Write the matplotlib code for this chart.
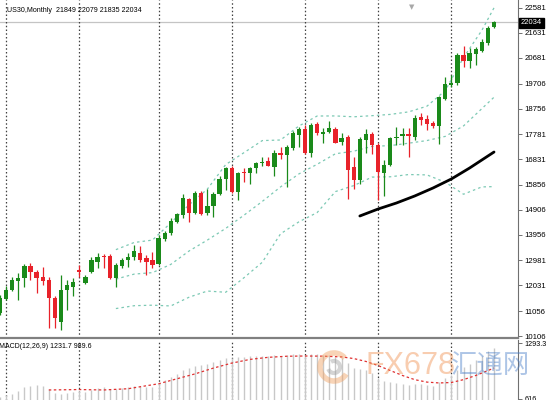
import matplotlib
matplotlib.use("Agg")
import matplotlib.pyplot as plt
from matplotlib.patches import Arc

# US30 monthly candles, oldest first
opens = [10982, 11514, 11856, 12199, 12313, 12769, 12541, 12351, 12237, 11552,
         10640, 11856, 11971, 12617, 12123, 12541, 12922, 13150, 13150, 12313,
         12769, 12998, 13112, 13264, 13074, 12998, 12845, 13796, 14024, 14443,
         14709, 15318, 14785, 15546, 14785, 15051, 15508, 16078, 16496, 15584,
         16344, 16290, 16496, 16686, 16762, 16534, 17066, 16990, 17257, 17751,
         17980, 17066, 18170, 17789, 17865, 17980, 17485, 17675, 16534, 16040,
         17561, 17789, 17371, 16306, 16610, 17637, 17713, 17789, 17675, 18436,
         18360, 18208, 18094, 19120, 19652, 19729, 20794, 20565, 20832, 20946,
         21250, 21849]
highs = [11650, 12009, 12351, 12503, 12845, 12884, 12617, 12731, 12351, 11630,
         12427, 12237, 12313, 12807, 12427, 13112, 13264, 13226, 13226, 12884,
         13074, 13264, 13568, 13530, 13188, 13302, 13948, 14100, 14595, 14785,
         15508, 15356, 15622, 15622, 15698, 15584, 16192, 16534, 16572, 16344,
         16496, 16534, 16724, 16914, 16914, 17181, 17295, 17371, 17903, 18056,
         18132, 18208, 18246, 18018, 18284, 18056, 17827, 17751, 16914, 17675,
         17980, 17865, 17447, 16800, 17675, 18056, 18018, 18018, 18512, 18588,
         18512, 18284, 19230, 19957, 20033, 20870, 21136, 21060, 21098, 21400,
         21900, 22079]
lows = [10900, 11476, 11800, 11476, 11971, 12237, 11742, 12047, 10416, 10416,
        10340, 11096, 11630, 12351, 12085, 12503, 12693, 12693, 12275, 11971,
        12693, 12731, 12998, 12922, 12427, 12693, 12807, 13720, 13948, 14405,
        14595, 14443, 14747, 14709, 14709, 14633, 15470, 15660, 15546, 15279,
        15964, 15888, 16306, 16572, 16572, 16192, 16838, 15774, 17181, 17295,
        17028, 16914, 17751, 17447, 17827, 17447, 17371, 15318, 15698, 15888,
        17066, 17028, 15279, 15432, 16572, 17371, 17371, 16914, 17561, 18132,
        17941, 18018, 17409, 19082, 19576, 19652, 20337, 20299, 20413, 20908,
        21174, 21835]
closes = [11553, 11856, 12237, 12313, 12769, 12541, 12313, 12199, 11552, 10792,
          11856, 12047, 12161, 12541, 12351, 12998, 13112, 13112, 12313, 12807,
          12998, 13112, 13340, 12998, 12922, 12807, 13834, 14024, 14481, 14747,
          15356, 14785, 15546, 14747, 15051, 15508, 16078, 16496, 15584, 16306,
          16306, 16496, 16686, 16724, 16572, 17066, 16990, 17295, 17827, 17980,
          17066, 18132, 17827, 17865, 18018, 17447, 17637, 16420, 16040, 17599,
          17789, 17371, 16344, 16610, 17637, 17675, 17789, 17713, 18398, 18322,
          18170, 18094, 19196, 19690, 19729, 20794, 20565, 20870, 21022, 21288,
          21820, 22034]

# Bollinger band lines, sampled at these candles
band_idx = [19, 22, 25, 28, 31, 34, 37, 40, 43, 46, 49, 52, 55, 58, 61, 64, 67, 70, 73, 76, 79, 81]
band_mid = [12271, 12461, 12517, 12830, 13340, 13755, 14198, 14701, 15224, 15777, 16270,
            16637, 17038, 17135, 17318, 17348, 17439, 17540, 17698, 18097, 18753, 19188]
band_up = [13391, 13663, 13755, 14410, 15098, 15693, 16626, 17079, 17538, 17561, 18092,
           18473, 18476, 18443, 18486, 18534, 18631, 18846, 19440, 20695, 21729, 22588]
band_lo = [11151, 11259, 11279, 11250, 11582, 11817, 11770, 12323, 12910, 13993, 14448,
           14801, 15600, 15827, 16150, 16162, 16247, 16234, 15956, 15499, 15777, 15788]

# black moving average
ma_idx = [59, 62, 65, 68, 71, 74, 77, 79, 81]
ma_val = [14671, 14937, 15165, 15432, 15736, 16078, 16496, 16800, 17104]

# MACD histogram (main) and signal line
macd = [640, 660, 676, 712, 761, 773, 785, 773, 737, 688,
        676, 688, 700, 712, 700, 725, 749, 761, 737, 737,
        749, 761, 773, 773, 761, 761, 809, 846, 882, 918,
        967, 991, 1015, 1027, 1039, 1063, 1088, 1112, 1112, 1124,
        1124, 1136, 1136, 1136, 1136, 1148, 1136, 1148, 1160, 1160,
        1148, 1160, 1160, 1148, 1148, 1124, 1112, 1051, 991, 979,
        967, 930, 870, 834, 821, 809, 797, 785, 797, 797,
        785, 773, 821, 870, 906, 967, 1003, 1039, 1088, 1136,
        1196, 1232]
sig_idx = [8, 13, 17, 21, 26, 29, 32, 35, 38, 41, 44, 47, 50, 53, 56, 58, 60, 62,
           64, 66, 68, 70, 72, 74, 76, 78, 80, 81]
sig_val = [725, 730, 725, 740, 800, 860, 920, 990, 1050, 1095, 1120, 1133, 1136, 1134,
           1125, 1105, 1070, 1020, 960, 900, 850, 820, 810, 815, 850, 900, 960, 990]

price_ticks = [22581, 21631, 20681, 19706, 18756, 17781, 16831, 15856, 14906,
               13956, 12981, 12031, 11056, 10106]
separators = [1, 13, 26, 38, 50, 62, 74]

plt.rcParams['font.family'] = ['Liberation Sans', 'DejaVu Sans']
W, H = 546, 400
fig = plt.figure(figsize=(W / 100, H / 100), dpi=100)
ax = fig.add_axes([0, 1 - 338 / H, 518 / W, 338 / H])
mx = fig.add_axes([0, 0, 518 / W, 60 / H])

green, red = '#1a8a1a', '#e8222a'
n = len(closes)
xs = list(range(n))
cols = [green if c >= o else red for o, c in zip(opens, closes)]
ax.vlines(xs, lows, highs, colors=cols, lw=0.9, zorder=3)
bottoms = [min(o, c) for o, c in zip(opens, closes)]
heights = [max(abs(c - o), 25) for o, c in zip(opens, closes)]
ax.bar(xs, heights, bottom=bottoms, width=0.7, color=cols, lw=0, zorder=4)

band_style = dict(color='#7cc9b4', lw=0.9, ls=(0, (2, 2.5)), zorder=2)
ax.plot(band_idx, band_up, **band_style)
ax.plot(band_idx, band_mid, **band_style)
ax.plot(band_idx, band_lo, **band_style)
ax.plot(ma_idx, ma_val, color='black', lw=2, zorder=5, solid_capstyle='round')
ax.axhline(closes[-1], color='#c4c4c4', lw=0.9, zorder=1)

for a in (ax, mx):
    a.set_xlim(0, 518 / 6.099)
    for s in ('top', 'left'):
        a.spines[s].set_visible(False)
    a.spines['right'].set_color('#707070')
    a.yaxis.tick_right()
    a.tick_params(axis='y', length=3, width=0.7, color='#707070', labelsize=5.6, pad=1.8)
    a.set_xticks([])
    for s in separators:
        a.axvline(s, color='#404040', lw=0.9, ls=(0, (1.2, 1.8)), zorder=1)

ax.spines['bottom'].set_color('#808080')
ax.spines['bottom'].set_linewidth(1.6)
ax.set_ylim(10031, 22885)
ax.set_yticks(price_ticks)
ax.set_yticklabels([str(t) for t in price_ticks])

mx.spines['bottom'].set_visible(False)
mx.vlines(xs, 0, macd, colors='#c8c8c8', lw=1, zorder=2)
mx.plot(sig_idx, sig_val, color='#e03030', lw=0.9, ls=(0, (2, 2)), zorder=3)
mx.set_ylim(603.6, 1329.6)
mx.set_yticks([1293.3, 616])
mx.set_yticklabels(['1293.3', '616'])
mx.tick_params(axis='y', labelsize=5.2, pad=1.5)

fig.text(7 / W, 1 - 11 / H, 'US30,Monthly  21849 22079 21835 22034', fontsize=5.1, va='center')
fig.text(-1 / W, 1 - 347 / H, 'MACD(12,26,9) 1231.7 989.6', fontsize=5.0, va='center')
fig.text(521 / W, 1 - 23 / H, '22034', fontsize=5.5, color='white', va='center',
         bbox=dict(boxstyle='square,pad=0.2', fc='black', ec='black'))
fig.text(412 / W, 1 - 7 / H, '\u25bc', fontsize=5, color='#a8a8a8', ha='center', va='center',
         family='DejaVu Sans')

# watermark
fig.add_artist(Arc((334, H - 367), 28, 28, theta1=40, theta2=330, transform=None,
                   color='#f0a060', lw=4, alpha=0.45))
fig.add_artist(Arc((334, H - 367), 12, 12, theta1=200, theta2=480, transform=None,
                   color='#a0a0a0', lw=3, alpha=0.45))
fig.text(366 / W, 1 - 366 / H, 'FX678', fontsize=22, color='#f09050', alpha=0.45, va='center')
fig.text(451 / W, 1 - 366 / H, '汇通网', fontsize=19, color='#4a7fc8', alpha=0.45, va='center',
         family=['Noto Sans CJK SC', 'DejaVu Sans'])

fig.savefig('out.png', dpi=100)
